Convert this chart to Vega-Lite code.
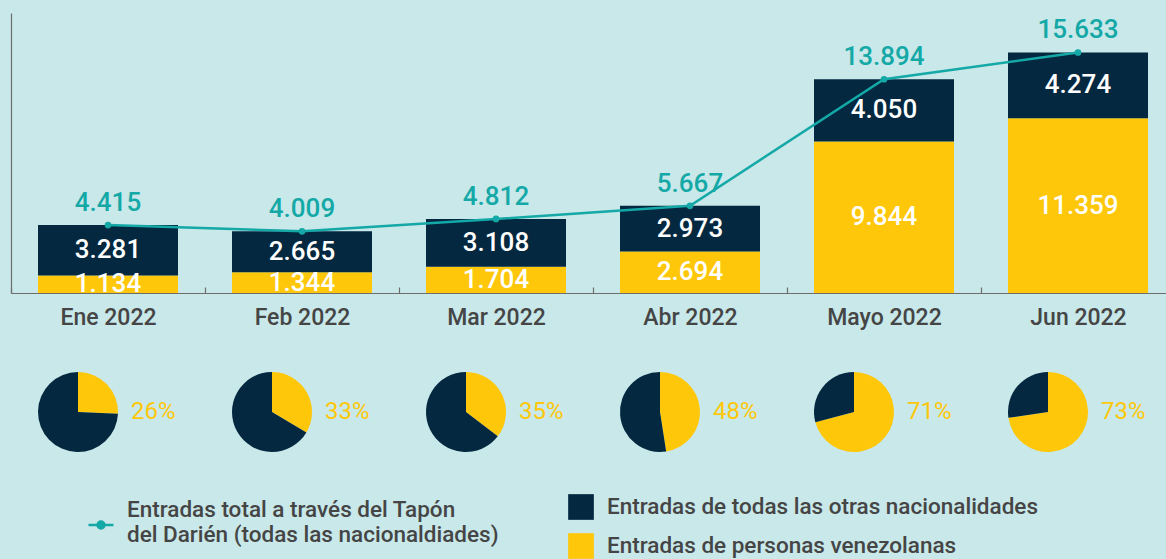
{
  "$schema": "https://vega.github.io/schema/vega-lite/v6.json",
  "background": "#c8e8e9",
  "padding": {"left": 10, "top": 13, "right": 0, "bottom": 0},
  "bounds": "flush",
  "spacing": 79,
  "config": {
    "font": "Roboto",
    "view": {"stroke": null},
    "locale": {"number": {"decimal": ",", "thousands": ".", "grouping": [3], "currency": ["", " €"]}}
  },
  "datasets": {
    "stack": [
      {"month": "Ene 2022", "series": "Entradas de personas venezolanas", "value": 1134},
      {"month": "Ene 2022", "series": "Entradas de todas las otras nacionalidades", "value": 3281},
      {"month": "Feb 2022", "series": "Entradas de personas venezolanas", "value": 1344},
      {"month": "Feb 2022", "series": "Entradas de todas las otras nacionalidades", "value": 2665},
      {"month": "Mar 2022", "series": "Entradas de personas venezolanas", "value": 1704},
      {"month": "Mar 2022", "series": "Entradas de todas las otras nacionalidades", "value": 3108},
      {"month": "Abr 2022", "series": "Entradas de personas venezolanas", "value": 2694},
      {"month": "Abr 2022", "series": "Entradas de todas las otras nacionalidades", "value": 2973},
      {"month": "Mayo 2022", "series": "Entradas de personas venezolanas", "value": 9844},
      {"month": "Mayo 2022", "series": "Entradas de todas las otras nacionalidades", "value": 4050},
      {"month": "Jun 2022", "series": "Entradas de personas venezolanas", "value": 11359},
      {"month": "Jun 2022", "series": "Entradas de todas las otras nacionalidades", "value": 4274}
    ],
    "totals": [
      {"month": "Ene 2022", "total": 4415, "pct": 0.26, "serie": "Entradas total a través del Tapón|del Darién (todas las nacionaldiades)"},
      {"month": "Feb 2022", "total": 4009, "pct": 0.33, "serie": "Entradas total a través del Tapón|del Darién (todas las nacionaldiades)"},
      {"month": "Mar 2022", "total": 4812, "pct": 0.35, "serie": "Entradas total a través del Tapón|del Darién (todas las nacionaldiades)"},
      {"month": "Abr 2022", "total": 5667, "pct": 0.48, "serie": "Entradas total a través del Tapón|del Darién (todas las nacionaldiades)"},
      {"month": "Mayo 2022", "total": 13894, "pct": 0.71, "serie": "Entradas total a través del Tapón|del Darién (todas las nacionaldiades)"},
      {"month": "Jun 2022", "total": 15633, "pct": 0.73, "serie": "Entradas total a través del Tapón|del Darién (todas las nacionaldiades)"}
    ]
  },
  "resolve": {"scale": {"x": "shared", "fill": "shared"}},
  "vconcat": [
    {
      "width": 1156,
      "height": 280,
      "layer": [
        {
          "data": {"name": "stack"},
          "transform": [
            {"stack": "value", "groupby": ["month"], "sort": [{"field": "series", "order": "ascending"}], "as": ["v0", "v1"]}
          ],
          "mark": {"type": "bar"},
          "encoding": {
            "x": {
              "field": "month", "type": "nominal", "sort": null,
              "scale": {"domain": ["Ene 2022", "Feb 2022", "Mar 2022", "Abr 2022", "Mayo 2022", "Jun 2022"], "paddingInner": 0.2784, "paddingOuter": 0.1186, "align": 0.587},
              "axis": {
                "title": null, "labelAngle": 0, "labelFontSize": 23, "labelFontWeight": 500, "labelColor": "#454545",
                "labelPadding": 19, "domainColor": "#6e6e6e", "domainWidth": 1.2,
                "ticks": true, "tickSize": -6, "tickOffset": -97, "labelOffset": 97, "tickColor": "#6e6e6e", "tickWidth": 1.2
              }
            },
            "y": {
              "field": "v1", "type": "quantitative",
              "scale": {"domain": [0, 18200], "nice": false},
              "axis": {"title": null, "labels": false, "ticks": false, "grid": false, "domainColor": "#6e6e6e", "domainWidth": 1.2}
            },
            "y2": {"field": "v0"},
            "fill": {
              "field": "series", "type": "nominal",
              "scale": {"domain": ["Entradas de todas las otras nacionalidades", "Entradas de personas venezolanas"], "range": ["#03283f", "#fec70a"]},
              "legend": {
                "title": null, "orient": "none", "legendX": 557, "legendY": 481, "direction": "vertical",
                "symbolType": "square", "symbolSize": 660, "symbolStrokeWidth": 0,
                "labelFontSize": 22.5, "labelFontWeight": 500, "labelColor": "#454545", "labelOffset": 13,
                "labelLimit": 600, "rowPadding": 13, "padding": 0
              }
            }
          }
        },
        {
          "data": {"name": "stack"},
          "transform": [
            {"stack": "value", "groupby": ["month"], "sort": [{"field": "series", "order": "ascending"}], "as": ["v0", "v1"]},
            {"fold": ["v0", "v1"], "as": ["edge", "pos"]},
            {"aggregate": [{"op": "mean", "field": "pos", "as": "mid"}], "groupby": ["month", "series", "value"]}
          ],
          "mark": {"type": "text", "color": "white", "fontSize": 26, "fontWeight": 500, "baseline": "middle", "align": "center"},
          "encoding": {
            "x": {"field": "month", "type": "nominal", "sort": null},
            "y": {"field": "mid", "type": "quantitative"},
            "text": {"field": "value", "type": "quantitative", "format": ",d"}
          }
        },
        {
          "data": {"name": "totals"},
          "mark": {"type": "line", "strokeWidth": 2.5},
          "encoding": {
            "x": {"field": "month", "type": "nominal", "sort": null},
            "y": {"field": "total", "type": "quantitative"},
            "stroke": {
              "field": "serie", "type": "nominal",
              "scale": {"range": ["#14a8a7"]},
              "legend": {
                "title": null, "orient": "none", "legendX": 76, "legendY": 483, "direction": "vertical",
                "symbolType": "M-1,1.2L1,1.2M-0.28,1.2A0.28,0.28,0,1,1,0.28,1.2A0.28,0.28,0,1,1,-0.28,1.2Z",
                "symbolSize": 625, "symbolStrokeWidth": 2.5, "symbolFillColor": "#14a8a7", "symbolStrokeColor": "#14a8a7",
                "labelFontSize": 22.5, "labelFontWeight": 500, "labelColor": "#454545", "labelOffset": 12,
                "labelLimit": 600, "padding": 0,
                "labelExpr": "split(datum.label, '|')"
              }
            }
          }
        },
        {
          "data": {"name": "totals"},
          "mark": {"type": "point", "filled": true, "color": "#14a8a7", "size": 45, "opacity": 1},
          "encoding": {
            "x": {"field": "month", "type": "nominal", "sort": null},
            "y": {"field": "total", "type": "quantitative"}
          }
        },
        {
          "data": {"name": "totals"},
          "mark": {"type": "text", "color": "#14a8a7", "fontSize": 26, "fontWeight": 500, "baseline": "alphabetic", "align": "center", "dy": -14},
          "encoding": {
            "x": {"field": "month", "type": "nominal", "sort": null},
            "y": {"field": "total", "type": "quantitative"},
            "text": {"field": "total", "type": "quantitative", "format": ",d"}
          }
        }
      ]
    },
    {
      "width": 1156,
      "height": 80,
      "layer": [
        {
          "data": {"name": "stack"},
          "transform": [
            {"stack": "value", "groupby": ["month"], "offset": "normalize", "sort": [{"field": "series", "order": "ascending"}], "as": ["p0", "p1"]}
          ],
          "mark": {"type": "arc", "radius": 40, "xOffset": -30},
          "encoding": {
            "x": {
              "field": "month", "type": "nominal", "sort": null,
              "scale": {"domain": ["Ene 2022", "Feb 2022", "Mar 2022", "Abr 2022", "Mayo 2022", "Jun 2022"], "paddingInner": 0.2784, "paddingOuter": 0.1186, "align": 0.587},
              "axis": null
            },
            "theta": {"field": "p0", "type": "quantitative", "stack": null, "scale": {"domain": [0, 1], "range": [0, 6.283185307]}},
            "theta2": {"field": "p1"},
            "fill": {"field": "series", "type": "nominal"}
          }
        },
        {
          "data": {"name": "totals"},
          "mark": {"type": "text", "color": "#fec70a", "fontSize": 24, "align": "left", "baseline": "middle", "dx": 23},
          "encoding": {
            "x": {"field": "month", "type": "nominal", "sort": null},
            "text": {"field": "pct", "type": "quantitative", "format": ".0%"}
          }
        }
      ]
    }
  ]
}
